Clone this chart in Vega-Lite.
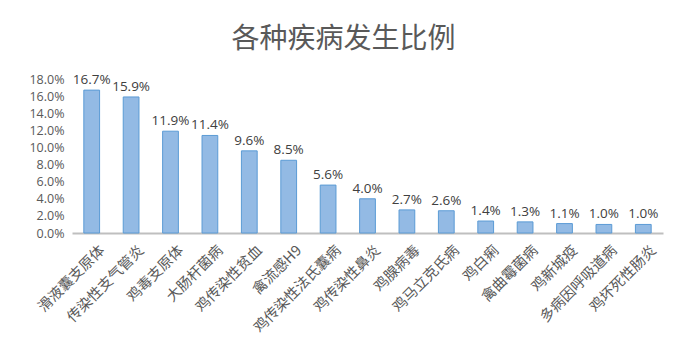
{
  "$schema": "https://vega.github.io/schema/vega-lite/v6.json",
  "autosize": "none",
  "width": 591,
  "height": 154,
  "padding": {"left": 72, "top": 79, "right": 24, "bottom": 126},
  "background": "white",
  "title": {
    "text": "各种疾病发生比例",
    "font": "Noto Sans CJK SC",
    "fontSize": 28,
    "fontWeight": "normal",
    "color": "#595959",
    "anchor": "middle",
    "dx": -24,
    "offset": 19
  },
  "data": {
    "values": [
      {"disease": "滑液囊支原体", "rate": 0.167},
      {"disease": "传染性支气管炎", "rate": 0.159},
      {"disease": "鸡毒支原体", "rate": 0.119},
      {"disease": "大肠杆菌病", "rate": 0.114},
      {"disease": "鸡传染性贫血", "rate": 0.096},
      {"disease": "禽流感H9", "rate": 0.085},
      {"disease": "鸡传染性法氏囊病", "rate": 0.056},
      {"disease": "鸡传染性鼻炎", "rate": 0.040},
      {"disease": "鸡腺病毒", "rate": 0.027},
      {"disease": "鸡马立克氏病", "rate": 0.026},
      {"disease": "鸡白痢", "rate": 0.014},
      {"disease": "禽曲霉菌病", "rate": 0.013},
      {"disease": "鸡新城疫", "rate": 0.011},
      {"disease": "多病因呼吸道病", "rate": 0.010},
      {"disease": "鸡坏死性肠炎", "rate": 0.010}
    ]
  },
  "config": {"view": {"stroke": null}},
  "encoding": {
    "x": {
      "field": "disease",
      "type": "nominal",
      "sort": null,
      "scale": {"paddingInner": 0.6, "paddingOuter": 0.3},
      "axis": {
        "title": null,
        "labelAngle": -45,
        "labelAlign": "right",
        "labelBaseline": "top",
        "labelFont": "Noto Sans CJK SC",
        "labelFontSize": 14.5,
        "labelColor": "#595959",
        "ticks": false,
        "labelPadding": 10,
        "labelOffset": 6,
        "domainColor": "#BFBFBF",
        "domainWidth": 2
      }
    },
    "y": {
      "field": "rate",
      "type": "quantitative",
      "scale": {"domain": [0, 0.18]},
      "axis": {
        "title": null,
        "format": ".1%",
        "values": [0, 0.02, 0.04, 0.06, 0.08, 0.10, 0.12, 0.14, 0.16, 0.18],
        "grid": false,
        "domain": false,
        "ticks": false,
        "labelFont": "Open Sans",
        "labelFontSize": 12.5,
        "labelColor": "#595959",
        "labelPadding": 8
      }
    }
  },
  "layer": [
    {
      "mark": {"type": "bar", "fill": "#93BAE4", "stroke": "#5B9BD5", "strokeWidth": 1}
    },
    {
      "mark": {"type": "text", "dy": -10, "font": "Open Sans", "fontSize": 13.5, "color": "#404040"},
      "encoding": {"text": {"field": "rate", "format": ".1%"}}
    }
  ]
}
